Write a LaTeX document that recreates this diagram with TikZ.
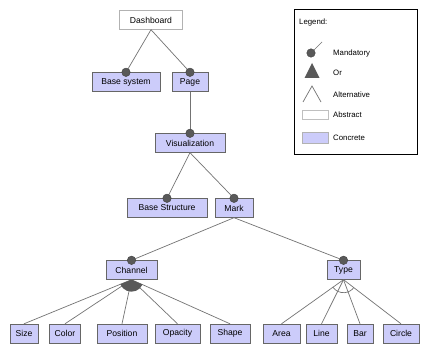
\documentclass[tikz,border=0pt]{standalone}
\usepackage{fontspec}
\setmainfont{Liberation Sans}
\begin{document}
\begin{tikzpicture}[x=1pt,y=-1pt,
  feat/.style={draw=black!60, fill={rgb,255:red,204;green,204;blue,250}, minimum height=19pt, inner sep=0pt, font=\fontsize{8.6}{9}\selectfont},
  abst/.style={feat, fill=white, draw=black!30},
  edge/.style={draw=black!55, line width=0.7pt},
  mand/.style={circle, fill=black!65, draw=black!75, minimum size=8.5pt, inner sep=0pt},
  legtext/.style={anchor=west, inner sep=0pt, font=\fontsize{7.8}{9}\selectfont}
]
\path[fill=white] (0,0) rectangle (422,347);
\useasboundingbox (0,0) rectangle (422,347);

% features
\node[abst, minimum width=63pt] (dash) at (151,20) {Dashboard};
\node[feat, minimum width=68pt] (bsys) at (126,82) {Base system};
\node[feat, minimum width=36pt] (page) at (190,82) {Page};
\node[feat, minimum width=70pt] (vis) at (190,143) {Visualization};
\node[feat, minimum width=80pt] (bstr) at (167,208) {Base Structure};
\node[feat, minimum width=38pt] (mark) at (234,208) {Mark};
\node[feat, minimum width=51pt] (chan) at (131.5,270) {Channel};
\node[feat, minimum width=33pt] (typ) at (343.5,270) {Type};
\node[feat, minimum width=28pt] (size) at (24,333.5) {Size};
\node[feat, minimum width=31pt] (color) at (65,333.5) {Color};
\node[feat, minimum width=50pt] (pos) at (122,333.5) {Position};
\node[feat, minimum width=45pt] (opa) at (177.5,333.5) {Opacity};
\node[feat, minimum width=40pt] (shape) at (230,333.5) {Shape};
\node[feat, minimum width=37pt] (area) at (281.5,333.5) {Area};
\node[feat, minimum width=31pt] (line) at (321.5,333.5) {Line};
\node[feat, minimum width=26pt] (bar) at (360,333.5) {Bar};
\node[feat, minimum width=36pt] (circ) at (401,333.5) {Circle};

% connectors
\draw[edge] (dash.south) -- (bsys.north);
\draw[edge] (dash.south) -- (page.north);
\draw[edge] (page.south) -- (vis.north);
\draw[edge] (vis.south) -- (bstr.north);
\draw[edge] (vis.south) -- (mark.north);
\draw[edge] (mark.south) -- (chan.north);
\draw[edge] (mark.south) -- (typ.north);
\foreach \c in {size,color,pos,opa,shape} \draw[edge] (chan.south) -- (\c.north);
\foreach \c in {area,line,bar,circ} \draw[edge] (typ.south) -- (\c.north);

% group symbols
\fill[black!65] (chan.south) -- ++(201.8:12pt) arc[start angle=201.8, end angle=336.4, radius=12pt] -- cycle;
\draw[edge] (typ.south) ++(214.7:13pt) arc[start angle=214.7, end angle=323.4, radius=13pt];

% mandatory markers
\foreach \c in {bsys,page,vis,bstr,mark,chan,typ} \node[mand] (m\c) at (\c.north) {};

% legend
\node[draw=black, line width=1pt, minimum width=123pt, minimum height=145pt, inner sep=0pt] (legend) at (355.5,82.5) {};
\node[legtext] (lt) at (299,22) {Legend:};
\coordinate (mtip) at (322,42);
\coordinate (mbase) at (311,53);
\draw[edge] (mbase) -- (mtip);
\node[mand] (lm) at (mbase) {};
\node[legtext] (lmt) at (333,53) {Mandatory};
\fill[black!65] (312,63) -- (304.5,78) -- (319.5,78) -- cycle;
\node[legtext] (lot) at (333,73) {Or};
\draw[edge] (303,102) -- (312,86) -- (321,102);
\node[legtext] (lat) at (333,95) {Alternative};
\draw[draw=black!25, fill=white] (302,110) rectangle (328,119);
\node[legtext] (labt) at (333,115) {Abstract};
\draw[draw=black!30, fill={rgb,255:red,204;green,204;blue,250}] (302,132) rectangle (328,143);
\node[legtext] (lct) at (333,138) {Concrete};
\end{tikzpicture}
\end{document}
